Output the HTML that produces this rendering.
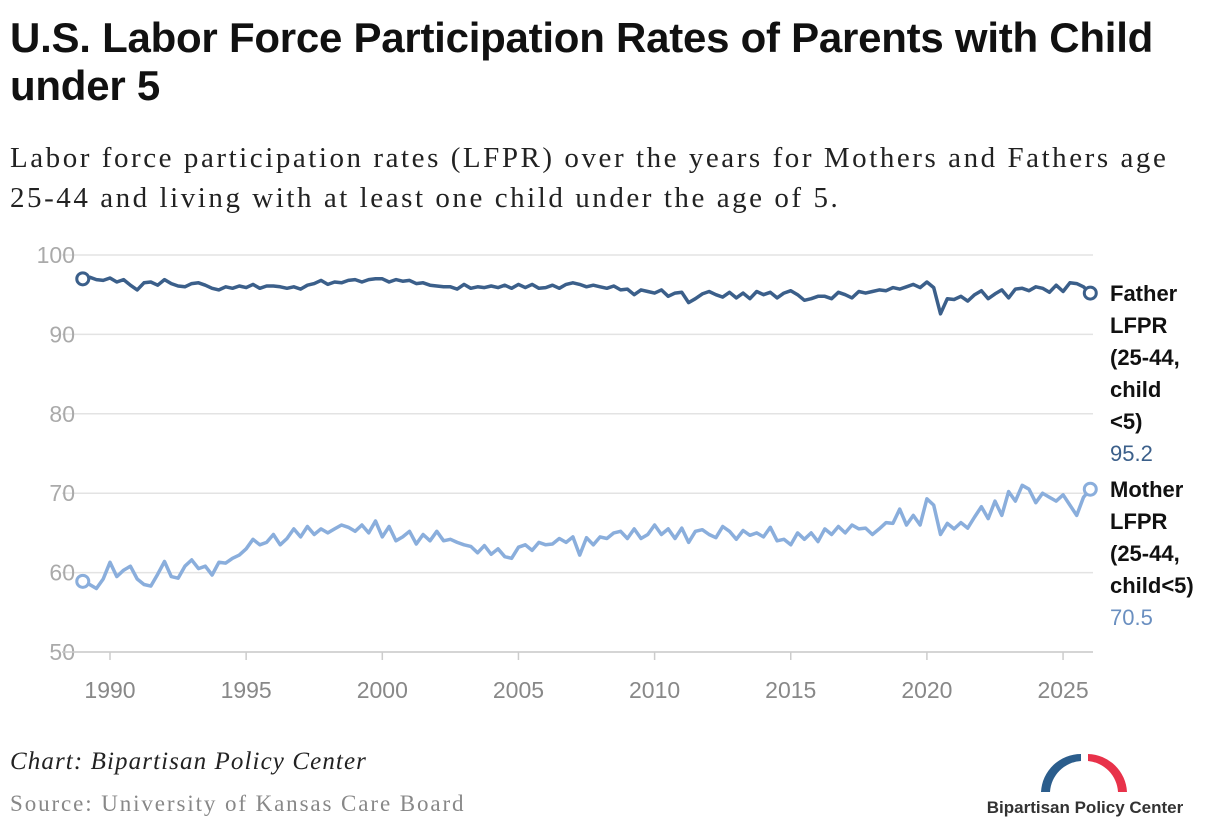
<!DOCTYPE html>
<html><head><meta charset="utf-8"><style>
body{margin:0;background:#fff;width:1220px;height:832px;overflow:hidden;font-family:"Liberation Sans",sans-serif;}
#title{position:absolute;left:10px;top:14px;font-size:42px;font-weight:bold;line-height:48px;letter-spacing:-0.25px;color:#111;width:1210px;white-space:nowrap;}
#sub{position:absolute;left:10px;top:138px;font-family:"Liberation Serif",serif;font-size:29px;letter-spacing:2.55px;line-height:40px;color:#222;width:1210px;white-space:nowrap;}
#credit{position:absolute;left:10px;top:748px;font-family:"Liberation Serif",serif;font-style:italic;font-size:25px;letter-spacing:1.1px;color:#222;}
#source{position:absolute;left:10px;top:791px;font-family:"Liberation Serif",serif;font-size:23px;letter-spacing:1.9px;color:#888;}
svg{position:absolute;left:0;top:0;}
</style></head><body>
<div id="title">U.S. Labor Force Participation Rates of Parents with Child<br>under 5</div>
<div id="sub">Labor force participation rates (LFPR) over the years for Mothers and Fathers age<br>25-44 and living with at least one child under the age of 5.</div>
<div id="credit">Chart: Bipartisan Policy Center</div>
<div id="source">Source: University of Kansas Care Board</div>
<svg id="chart" width="1220" height="832"></svg>
<svg width="1220" height="832" style="pointer-events:none">
<path d="M1041 792 A40 40 0 0 1 1081 754 L1081 761 A33 33 0 0 0 1050 792 Z" fill="#2b5d8c"/>
<path d="M1088 754 A40 40 0 0 1 1127 792 L1118 792 A33 33 0 0 0 1088 761 Z" fill="#e8324a"/>
<text x="1085" y="813" text-anchor="middle" font-size="17" font-weight="bold" fill="#333" font-family="Liberation Sans, sans-serif">Bipartisan Policy Center</text>
</svg>
<script>
const yTicks=[50,60,70,80,90,100];
const xTicks=[1990,1995,2000,2005,2010,2015,2020,2025];
const startYear=1989;
const father=[97.0,97.2,96.9,96.8, 97.1,96.6,96.9,96.2, 95.6,96.5,96.6,96.2, 96.9,96.4,96.1,96.0, 96.4,96.5,96.2,95.8, 95.6,96.0,95.8,96.1, 95.9,96.3,95.8,96.1, 96.1,96.0,95.8,96.0, 95.7,96.2,96.4,96.8, 96.3,96.6,96.5,96.8, 96.9,96.6,96.9,97.0, 97.0,96.6,96.9,96.7, 96.8,96.4,96.5,96.2, 96.1,96.0,96.0,95.7, 96.3,95.8,96.0,95.9, 96.1,95.9,96.2,95.8, 96.3,95.9,96.3,95.8, 95.9,96.2,95.8,96.3, 96.5,96.3,96.0,96.2, 96.0,95.8,96.1,95.6, 95.7,95.0,95.6,95.4, 95.2,95.6,94.8,95.2, 95.3,94.0,94.5,95.1, 95.4,95.0,94.7,95.3, 94.6,95.2,94.5,95.4, 95.0,95.3,94.6,95.2, 95.5,95.0,94.3,94.5, 94.8,94.8,94.5,95.3, 95.0,94.6,95.4,95.2, 95.4,95.6,95.5,95.9, 95.7,96.0,96.3,95.9, 96.6,95.9,92.6,94.5, 94.4,94.8,94.2,95.0, 95.5,94.5,95.1,95.6, 94.6,95.7,95.8,95.5, 96.0,95.8,95.3,96.2, 95.4,96.5,96.4,96.0, 95.2];
const mother=[58.9,58.5,58.0,59.2, 61.3,59.5,60.3,60.8, 59.2,58.5,58.3,59.8, 61.4,59.5,59.3,60.8, 61.6,60.5,60.8,59.7, 61.3,61.2,61.8,62.2, 63.0,64.2,63.5,63.8, 64.8,63.5,64.3,65.5, 64.5,65.8,64.8,65.5, 65.0,65.5,66.0,65.7, 65.2,66.0,65.0,66.5, 64.5,65.8,64.0,64.5, 65.2,63.6,64.8,64.0, 65.2,64.0,64.2,63.8, 63.5,63.3,62.5,63.4, 62.3,63.0,62.0,61.8, 63.2,63.5,62.8,63.8, 63.5,63.6,64.3,63.8, 64.5,62.2,64.4,63.5, 64.5,64.3,65.0,65.2, 64.3,65.5,64.3,64.8, 66.0,64.8,65.5,64.3, 65.6,63.8,65.2,65.4, 64.8,64.4,65.8,65.2, 64.2,65.3,64.7,65.0, 64.5,65.7,64.0,64.2, 63.5,65.0,64.2,65.0, 63.9,65.5,64.8,65.8, 65.0,66.0,65.5,65.6, 64.8,65.5,66.3,66.2, 68.0,66.0,67.2,66.0, 69.3,68.5,64.8,66.2, 65.5,66.3,65.6,67.0, 68.3,66.8,69.0,67.2, 70.2,69.0,71.0,70.5, 68.8,70.0,69.5,69.0, 69.8,68.5,67.2,69.5, 70.5];
const fatherLabel=["Father","LFPR","(25-44,","child","<5)"];
const motherLabel=["Mother","LFPR","(25-44,","child<5)"];
const NS="http://www.w3.org/2000/svg";
const svg=document.getElementById('chart');
const x=yr=>110+(yr-1990)*27.23;
const y=v=>652-(v-50)*7.94;
function mk(t,a){const e=document.createElementNS(NS,t);for(const k in a)e.setAttribute(k,a[k]);svg.appendChild(e);return e;}
yTicks.forEach(v=>{
 const g=mk('line',{x1:62,x2:1093,y1:y(v),y2:y(v),stroke:'#e3e3e3','stroke-width':1.5});
 
 
 const t=mk('text',{x:75,y:y(v)+8,'text-anchor':'end','font-size':23,fill:'#aaa'});t.textContent=v;
 
 
});
mk('line',{x1:62,x2:1093,y1:652,y2:652,stroke:'#ccc','stroke-width':1.5});
xTicks.forEach(v=>{
 const l=mk('line',{x1:x(v),x2:x(v),y1:652,y2:660,stroke:'#ccc','stroke-width':1.5});
 
 
 const t=mk('text',{x:x(v),y:698,'text-anchor':'middle','font-size':23,fill:'#888'});t.textContent=v;
 
 
});
function series(arr,color,name){
 const d=arr.map((v,i)=>(i?'L':'M')+x(startYear+i/4).toFixed(1)+' '+y(v).toFixed(1)).join(' ');
 const p=mk('path',{d:d,fill:'none',stroke:color,'stroke-width':3.5,'stroke-linejoin':'round'});
 
 
 [0,arr.length-1].forEach(i=>{
  const c=mk('circle',{cx:x(startYear+i/4),cy:y(arr[i]),r:6,fill:'#fff',stroke:color,'stroke-width':3});
  
  
 });
}
series(mother,'#8aaedc','mother');
series(father,'#3b5f8a','father');
function label(lines,val,top,color,name){
 lines.forEach((s,i)=>{const t=mk('text',{x:1110,y:top+i*32,'font-size':22,'font-weight':'bold',fill:'#111'});t.textContent=s;
  
  });
 const t=mk('text',{x:1110,y:top+lines.length*32,'font-size':22,fill:color});t.textContent=val.toFixed(1);
 
 
}
label(fatherLabel,father[father.length-1],301,'#3b5f8a','father');
label(motherLabel,mother[mother.length-1],497,'#6a8fc0','mother');
</script>
</body></html>
